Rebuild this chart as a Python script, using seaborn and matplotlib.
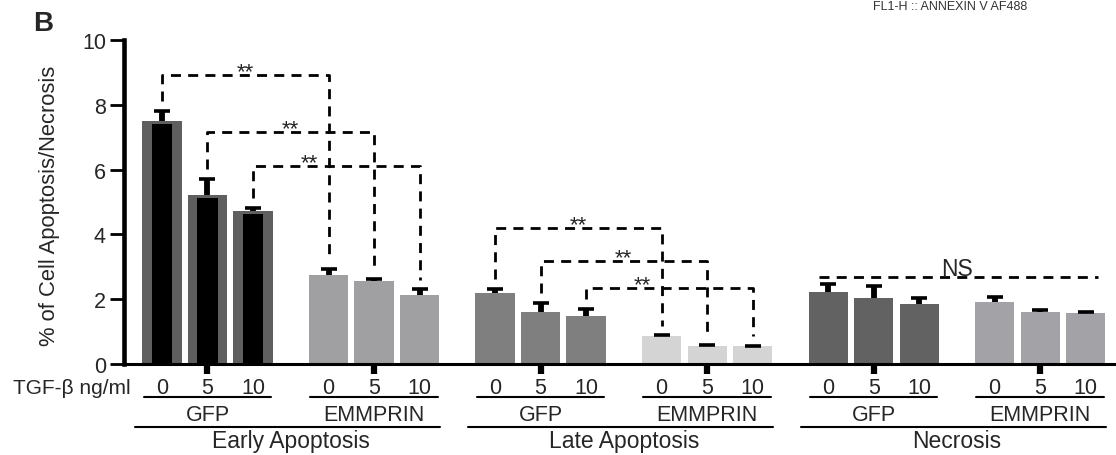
"""Annexin V / PI apoptosis bars: GFP vs EMMPRIN cells under TGF-beta."""

import numpy as np
import pandas as pd
import matplotlib
matplotlib.use("Agg")
import matplotlib.pyplot as plt
import seaborn as sns

# ---- data ----
doses = ["0", "5", "10"]
stages = ["Early Apoptosis", "Late Apoptosis", "Necrosis"]
cell_lines = ["GFP", "EMMPRIN"]

early_gfp = [7.50, 5.22, 4.72]
early_gfp_err = [0.32, 0.50, 0.10]
early_emm = [2.75, 2.57, 2.13]
early_emm_err = [0.18, 0.04, 0.17]

late_gfp = [2.18, 1.62, 1.48]
late_gfp_err = [0.15, 0.26, 0.22]
late_emm = [0.86, 0.57, 0.55]
late_emm_err = [0.02, 0.02, 0.02]

nec_gfp = [2.21, 2.03, 1.86]
nec_gfp_err = [0.25, 0.37, 0.17]
nec_emm = [1.92, 1.62, 1.58]
nec_emm_err = [0.15, 0.04, 0.04]

# bracket heights for GFP vs EMMPRIN at each dose
early_sig_y = [8.92, 7.16, 6.11]
late_sig_y = [4.20, 3.18, 2.35]
necrosis_ns_y = 2.69

means = [early_gfp, early_emm, late_gfp, late_emm, nec_gfp, nec_emm]
errs = [early_gfp_err, early_emm_err, late_gfp_err, late_emm_err,
        nec_gfp_err, nec_emm_err]
set_names = [f"{s} {c}" for s in stages for c in cell_lines]
bar_colors = ["#5f5f5f", "#a0a0a3", "#7f7f7f", "#d4d4d4", "#626262", "#a3a3a7"]

# ---- layout ----
PERIOD = 3.66      # distance between first bars of consecutive groups
BAR_W = 0.86

rows = []
for g, (name, vals, ee) in enumerate(zip(set_names, means, errs)):
    for d, (v, e) in enumerate(zip(vals, ee)):
        rows.append({"pos": g * PERIOD + d, "value": v, "err": e,
                     "set": name, "dose": doses[d]})
df = pd.DataFrame(rows)
group_pos = [df.loc[df["set"] == n, "pos"].to_numpy() for n in set_names]

sns.set_style("white")
plt.rcParams["font.family"] = ["Liberation Sans", "DejaVu Sans"]

fig = plt.figure(figsize=(11.16, 4.56), dpi=100)
ax = fig.add_axes([124 / 1116, 91 / 456, 992 / 1116, 324 / 456])

sns.barplot(data=df, x="pos", y="value", hue="set",
            palette=dict(zip(set_names, bar_colors)), native_scale=True,
            dodge=False, width=BAR_W, saturation=1, errorbar=None,
            legend=False, linewidth=0, ax=ax)

# the GFP early-apoptosis bars have a narrower black core
inner = df[df["set"] == set_names[0]].copy()
inner["value"] = inner["value"] - 0.1
sns.barplot(data=inner, x="pos", y="value", color="black", native_scale=True,
            width=0.44, saturation=1, errorbar=None, linewidth=0, ax=ax)

# upward-only error bars
ax.errorbar(df["pos"], df["value"], yerr=[np.zeros(len(df)), df["err"]],
            fmt="none", ecolor="black", elinewidth=4.2, capsize=0, zorder=4)
ax.plot(df["pos"], df["value"] + df["err"], ls="none", marker="_",
        ms=11, mew=2.6, color="black", zorder=4)

# significance brackets
dash = dict(color="black", lw=2, ls=(0, (3.6, 2.6)), zorder=5)

for gfp_i, emm_i, heights in [(0, 1, early_sig_y), (2, 3, late_sig_y)]:
    first_right = group_pos[emm_i][0]
    for d, h in enumerate(heights):
        x0, x1 = group_pos[gfp_i][d], group_pos[emm_i][d]
        y0 = means[gfp_i][d] + errs[gfp_i][d] + 0.3
        y1 = means[emm_i][d] + errs[emm_i][d] + 0.3
        ax.plot([x0, x0, x1, x1], [y0, h, h, y1], **dash)
        # keep the star label clear of the first bracket's drop line
        lx = min((x0 + x1) / 2, first_right - 0.42) if d == 2 else (x0 + x1) / 2
        ax.text(lx, h + 0.1, "**", ha="center", va="center", fontsize=16)

ns_x0, ns_x1 = group_pos[4][0] - 0.2, group_pos[5][-1] + 0.27
ax.plot([ns_x0, ns_x1], [necrosis_ns_y, necrosis_ns_y], **dash)
ax.text((group_pos[4][0] + group_pos[5][-1]) / 2, necrosis_ns_y + 0.07, "NS",
        ha="center", va="baseline", fontsize=16.5)

# axes styling
ax.set_xlim(-0.835, -0.835 + 992 / 45.5)
ax.set_ylim(0, 10)
ax.set_yticks([0, 2, 4, 6, 8, 10])
ax.set_xticks([p[1] for p in group_pos])
ax.set_xticklabels([])
ax.tick_params(axis="y", length=10, width=2, labelsize=15.5, pad=3,
               color="black", left=True)
ax.tick_params(axis="x", length=7, width=4.5, direction="out",
               color="black", bottom=True)
for side in ["top", "right"]:
    ax.spines[side].set_visible(False)
ax.spines["left"].set_linewidth(3.3)
ax.spines["bottom"].set_linewidth(2.2)
ax.spines["left"].set_color("black")
ax.spines["bottom"].set_color("black")
ax.set_xlabel("")
ax.set_ylabel("% of Cell Apoptosis/Necrosis", fontsize=15.8, va="center")
ax.yaxis.set_label_coords(-0.0746, 0.49)

# group annotations under the x axis
tr = ax.get_xaxis_transform()
ax.text(-0.68, -0.074, "TGF-\u03b2 ng/ml", transform=tr, ha="right",
        va="center", fontsize=15, clip_on=False)
for name, pos in zip(set_names, group_pos):
    for p, d in zip(pos, doses):
        ax.text(p, -0.074, d, transform=tr, ha="center", va="center",
                fontsize=15.5, clip_on=False)
    ax.plot([pos[0] - 0.4, pos[-1] + 0.4], [-0.102, -0.102], transform=tr,
            color="black", lw=1.5, clip_on=False)
    ax.text(pos.mean(), -0.156, name.split()[-1], transform=tr, ha="center",
            va="center", fontsize=15.5, clip_on=False)

for s, stage in enumerate(stages):
    first, last = group_pos[2 * s][0], group_pos[2 * s + 1][-1]
    ax.plot([first - 0.6, last + 0.45], [-0.194, -0.194], transform=tr,
            color="black", lw=1.5, clip_on=False)
    ax.text((first + last) / 2, -0.235, stage, transform=tr, ha="center",
            va="center", fontsize=16.5, clip_on=False)

fig.text(43 / 1116, 1 - 24 / 456, "B", fontsize=20, weight="bold",
         ha="center", va="center")
# header of the neighbouring panel, squeezed into the top margin
fig.text(1027 / 1116, 1 - 1 / 456, "FL1-H :: ANNEXIN V AF488", fontsize=9,
         ha="right", va="top", color="#333333")

fig.savefig("out.png", dpi=100)
